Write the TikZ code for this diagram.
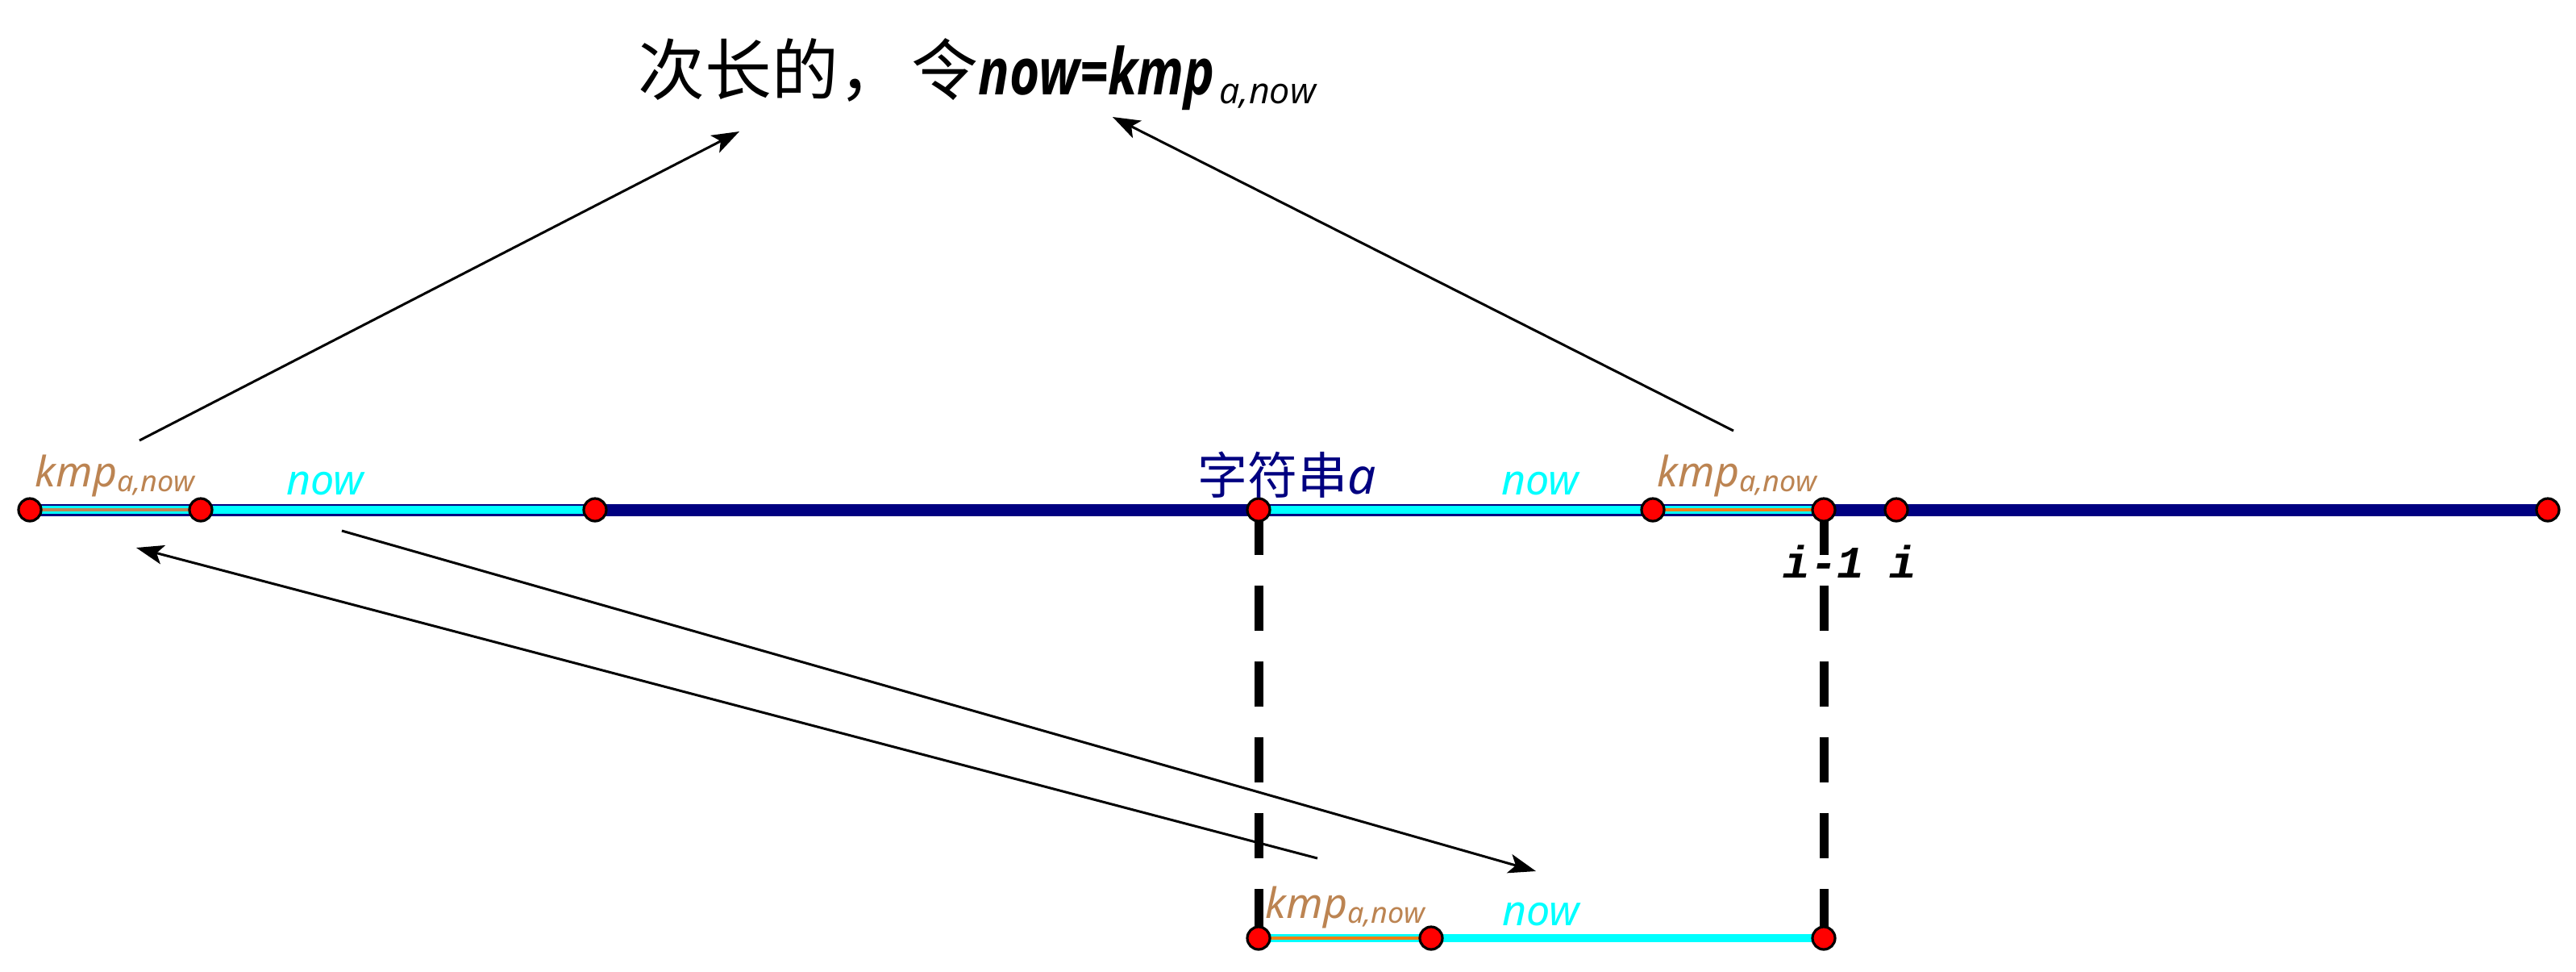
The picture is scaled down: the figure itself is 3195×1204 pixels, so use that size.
\documentclass[tikz,border=0pt]{standalone}
\usepackage{fontspec}
\usepackage{tikz}
\usetikzlibrary{arrows.meta}
\setmainfont{Noto Sans}
\newfontfamily\cjkfont{Noto Sans CJK SC}
\newfontfamily\eqfont{Open Sans}[FakeStretch=0.8]
\newfontfamily\eqsubfont{Open Sans}
\newfontfamily\idxfont{Liberation Mono}

\definecolor{strnavy}{RGB}{0,0,128}
\definecolor{nowcyan}{RGB}{0,255,255}
\definecolor{kmpbrown}{RGB}{188,132,82}
\definecolor{kmporange}{RGB}{240,128,20}

\newcommand{\kmpsub}{kmp\raisebox{-1.5pt}{\fontsize{9}{10}\selectfont a,now}}
\newcommand{\kmpsubbig}{kmp\kern1.5pt\raisebox{-2.75pt}{\eqsubfont\fontsize{11.2}{13}\selectfont\mdseries\itshape a,now}}

\tikzset{
  pt/.style={circle, fill=red, draw=black, line width=0.8pt, inner sep=0pt, minimum size=7pt},
  lab/.style={inner sep=0.75pt, font=\fontsize{13}{15}\selectfont\itshape},
  idx/.style={inner sep=0.75pt, font=\fontsize{14}{16}\selectfont\idxfont\bfseries\itshape},
  jump/.style={line width=0.75pt, -{Stealth[length=8.5pt,width=6pt,inset=2pt]}},
  guide/.style={line width=2.75pt, dash pattern=on 14pt off 9.5pt},
}

\begin{document}
\begin{tikzpicture}[x=0.25pt,y=-0.25pt]
\useasboundingbox (0,0) rectangle (3195,1204);

%Points on the string
\coordinate (a0) at (37,632);
\coordinate (a1) at (249,632);
\coordinate (a2) at (738,632);
\coordinate (a3) at (1561,632);
\coordinate (a4) at (2050,632);
\coordinate (a5) at (2262,632);
\coordinate (a6) at (2352,632);
\coordinate (a7) at (3160,632);
%Points of the copy below
\coordinate (b0) at (1561,1163);
\coordinate (b1) at (1775,1163);
\coordinate (b2) at (2262,1163);

%Dashed Lines
\draw [guide] (a3) -- (b0);
\draw [guide] (a5) -- (b2);

%Straight Lines
\draw [strnavy, line width=3.75pt] (a0) -- (a7);
\draw [nowcyan, line width=2.5pt] (a0) -- (a2);
\draw [nowcyan, line width=2.5pt] (a3) -- (a5);
\draw [kmpbrown, line width=1pt] (a0) -- (a1);
\draw [kmporange, line width=1pt] (a4) -- (a5);
\draw [nowcyan, line width=2.5pt] (b0) -- (b2);
\draw [kmporange, line width=1pt] (b0) -- (b1);

\foreach \p in {a0,a1,a2,a3,a4,a5,a6,a7,b0,b1,b2}
  \node [pt] (n\p) at (\p) {};

% Text Node
\node [anchor=base west, inner sep=0pt] (title) at (791,117)
  {\fontsize{20.7}{24}\selectfont\cjkfont 次长的，\kern2pt 令\eqfont\fontsize{20}{24}\selectfont\bfseries\itshape now=\kmpsubbig};

% Text Node
\node [lab, kmpbrown, anchor=base west] (kmpL) at (40,603) {\kmpsub};
% Text Node
\node [lab, nowcyan, anchor=base] (nowL) at (403,613) {now};
% Text Node
\node [lab, strnavy, anchor=base, font=\fontsize{15.5}{17}\selectfont\itshape] (str) at (1596,612) {{\cjkfont\upshape 字符串}a};
% Text Node
\node [lab, nowcyan, anchor=base] (nowM) at (1910,613) {now};
% Text Node
\node [lab, kmpbrown, anchor=base west] (kmpM) at (2052,603) {\kmpsub};
% Text Node
\node [idx, anchor=base] (im1) at (2262,716) {i-1};
% Text Node
\node [idx, anchor=base] (i) at (2360,716) {i};
% Text Node
\node [lab, kmpbrown, anchor=base west] (kmpB) at (1566,1138) {\kmpsub};
% Text Node
\node [lab, nowcyan, anchor=base] (nowB) at (1911,1147) {now};

%Curve Lines
\coordinate (t1) at (173,546);  \coordinate (h1) at (917,163);
\coordinate (t2) at (2150,534); \coordinate (h2) at (1380,145);
\coordinate (t3) at (1634,1064); \coordinate (h3) at (169,679);
\coordinate (t4) at (424,658);  \coordinate (h4) at (1905,1080);
\draw [jump] (t1) -- (h1);
\draw [jump] (t2) -- (h2);
\draw [jump] (t3) -- (h3);
\draw [jump] (t4) -- (h4);

\end{tikzpicture}
\end{document}
